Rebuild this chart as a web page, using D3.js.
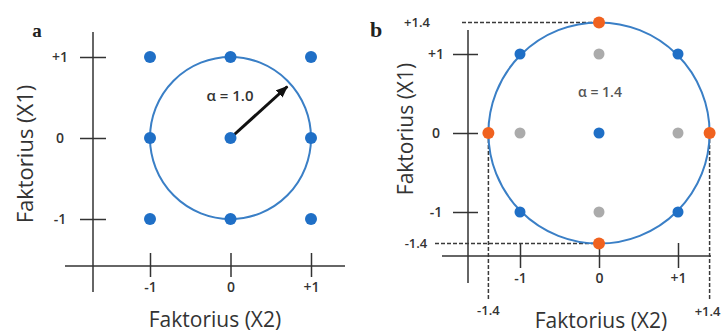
<!DOCTYPE html>
<html>
<head>
<meta charset="utf-8">
<script src="https://cdn.jsdelivr.net/npm/d3@7/dist/d3.min.js"></script>
<style>
  html, body { margin: 0; padding: 0; background: #fff; }
  svg { display: block; }
  text { font-family: "Open Sans", "Noto Sans", sans-serif; }
</style>
</head>
<body>
<svg id="chart" width="725" height="334"></svg>
<script>
// Coded factor levels
const tickValues = [-1, 0, 1];
const tickLabels = ["-1", "0", "+1"];

// (a) 3x3 full factorial design, points as [X2, X1]
const gridPointsA = [
  [-1, 1], [0, 1], [1, 1],
  [-1, 0], [0, 0], [1, 0],
  [-1, -1], [0, -1], [1, -1]
];
const alphaA = 1.0;
const arrowAngleDeg = 42;

// (b) central composite design, points as [X2, X1]
const alphaB = 1.4;
const factorialPointsB = [[-1, 1], [1, 1], [-1, -1], [1, -1]];
const centerPointsB = [[0, 0]];
const axialPointsB = [[0, 1.4], [0, -1.4], [-1.4, 0], [1.4, 0]];
const droppedPointsB = [[0, 1], [0, -1], [-1, 0], [1, 0]];
const axialLabels = ["-1.4", "+1.4"];

const axisTitleX = "Faktorius (X2)";
const axisTitleY = "Faktorius (X1)";

const BLUE = "#1f6fc6";
const RING = "#3a7fc6";
const ORANGE = "#f0621f";
const GREY = "#ababab";
const INK = "#333";

const svg = d3.select("#chart");

svg.append("defs").append("marker")
  .attr("id", "arrowhead")
  .attr("viewBox", "0 0 12 10")
  .attr("refX", 11).attr("refY", 5)
  .attr("markerWidth", 12).attr("markerHeight", 10)
  .attr("markerUnits", "userSpaceOnUse")
  .attr("orient", "auto")
  .append("path").attr("d", "M0,0 L12,5 L0,10 Z").attr("fill", "#111");

function crossTicks(g, inner, outer, vertical) {
  g.select(".domain").remove();
  g.selectAll(".tick line")
    .attr("stroke", INK).attr("stroke-width", 1.5);
  if (vertical) {
    g.selectAll(".tick line").attr("x1", outer).attr("x2", -inner);
  } else {
    g.selectAll(".tick line").attr("y1", -inner).attr("y2", outer);
  }
  g.selectAll(".tick text")
    .attr("fill", INK)
    .style("font-size", "14px")
    .style("font-weight", 600);
}

// ---------- Panel a ----------
const xA = d3.scaleLinear().domain([-1, 1]).range([150, 311]);
const yA = d3.scaleLinear().domain([-1, 1]).range([219, 57]);
const axisXA = 93, axisYA = 266;

const pa = svg.append("g");

pa.append("line").attr("x1", axisXA).attr("x2", axisXA).attr("y1", 32).attr("y2", 292)
  .attr("stroke", INK).attr("stroke-width", 1.5);
pa.append("line").attr("x1", 65).attr("x2", 345).attr("y1", axisYA).attr("y2", axisYA)
  .attr("stroke", INK).attr("stroke-width", 1.5);

pa.append("g").attr("transform", `translate(${axisXA},0)`)
  .call(d3.axisLeft(yA).tickValues(tickValues).tickFormat((d, i) => tickLabels[i]).tickSize(13).tickPadding(20))
  .call(g => crossTicks(g, 13, 13, true))
  .call(g => g.selectAll(".tick text").attr("text-anchor", "middle").attr("x", -33));

pa.append("g").attr("transform", `translate(0,${axisYA})`)
  .call(d3.axisBottom(xA).tickValues(tickValues).tickFormat((d, i) => tickLabels[i]).tickSize(11))
  .call(g => crossTicks(g, 13, 11, false))
  .call(g => g.selectAll(".tick text").attr("y", 16));

pa.append("ellipse")
  .attr("cx", xA(0)).attr("cy", yA(0))
  .attr("rx", xA(alphaA) - xA(0)).attr("ry", yA(0) - yA(alphaA))
  .attr("fill", "none").attr("stroke", RING).attr("stroke-width", 2);

const ang = arrowAngleDeg * Math.PI / 180;
pa.append("line")
  .attr("x1", xA(0)).attr("y1", yA(0))
  .attr("x2", xA(alphaA * 0.95 * Math.cos(ang))).attr("y2", yA(alphaA * 0.95 * Math.sin(ang)))
  .attr("stroke", "#111").attr("stroke-width", 3)
  .attr("marker-end", "url(#arrowhead)");

pa.selectAll("circle.pt").data(gridPointsA).join("circle")
  .attr("class", "pt")
  .attr("cx", d => xA(d[0])).attr("cy", d => yA(d[1])).attr("r", 6)
  .attr("fill", BLUE);

pa.append("text").attr("x", 230).attr("y", 101).attr("text-anchor", "middle")
  .attr("fill", "#333").style("font-size", "15px").style("font-weight", 600)
  .text(`\u03b1 = ${alphaA.toFixed(1)}`);

pa.append("text").attr("x", 37).attr("y", 37).attr("text-anchor", "middle")
  .style("font-family", "'Liberation Serif', serif").style("font-weight", "bold")
  .style("font-size", "19px").attr("fill", "#222").text("a");

pa.append("text").attr("transform", "translate(33,154) rotate(-90)")
  .attr("text-anchor", "middle").attr("fill", INK).style("font-size", "22px")
  .text(axisTitleY);
pa.append("text").attr("x", 215).attr("y", 327).attr("text-anchor", "middle")
  .attr("fill", INK).style("font-size", "21px").text(axisTitleX);

// ---------- Panel b ----------
const xB = d3.scaleLinear().domain([-1, 1]).range([520, 678]);
const yB = d3.scaleLinear().domain([-1, 1]).range([212, 54]);
const axisXB = 468, axisYB = 256;

const pb = svg.append("g");

pb.append("line").attr("x1", axisXB).attr("x2", axisXB).attr("y1", 30).attr("y2", 283)
  .attr("stroke", INK).attr("stroke-width", 1.5);
pb.append("line").attr("x1", 442).attr("x2", 711).attr("y1", axisYB).attr("y2", axisYB)
  .attr("stroke", INK).attr("stroke-width", 1.5);

pb.append("g").attr("transform", `translate(${axisXB},0)`)
  .call(d3.axisLeft(yB).tickValues(tickValues).tickFormat((d, i) => tickLabels[i]).tickSize(12))
  .call(g => crossTicks(g, 15, 10, true))
  .call(g => g.selectAll(".tick text").attr("text-anchor", "middle").attr("x", -32));

pb.append("g").attr("transform", `translate(0,${axisYB})`)
  .call(d3.axisBottom(xB).tickValues(tickValues).tickFormat((d, i) => tickLabels[i]).tickSize(12))
  .call(g => crossTicks(g, 13, 12, false))
  .call(g => g.selectAll(".tick text").attr("y", 17));

// dashed guides to the axial levels
const dash = { stroke: "#3a3a3a", "stroke-width": 1.5, "stroke-dasharray": "4,2" };
function dashed(x1, y1, x2, y2) {
  const l = pb.append("line").attr("x1", x1).attr("y1", y1).attr("x2", x2).attr("y2", y2);
  Object.entries(dash).forEach(([k, v]) => l.attr(k, v));
}
dashed(462, yB(alphaB), xB(0), yB(alphaB));
dashed(435, yB(-alphaB), xB(0), yB(-alphaB));
dashed(xB(-alphaB), yB(0), xB(-alphaB), 300);
dashed(xB(alphaB), yB(0), xB(alphaB), 300);

pb.append("ellipse")
  .attr("cx", xB(0)).attr("cy", yB(0))
  .attr("rx", xB(alphaB) - xB(0)).attr("ry", yB(0) - yB(alphaB))
  .attr("fill", "none").attr("stroke", RING).attr("stroke-width", 2);

function dots(data, color, r) {
  pb.append("g").selectAll("circle").data(data).join("circle")
    .attr("cx", d => xB(d[0])).attr("cy", d => yB(d[1])).attr("r", r)
    .attr("fill", color);
}
dots(droppedPointsB, GREY, 5.5);
dots(factorialPointsB, BLUE, 5.5);
dots(centerPointsB, BLUE, 5.5);
dots(axialPointsB, ORANGE, 6);

const lblStyle = t => t.attr("fill", INK).style("font-size", "13px").style("font-weight", 600)
  .attr("text-anchor", "middle");
pb.append("text").attr("x", 417).attr("y", yB(alphaB) + 5).call(lblStyle).text(axialLabels[1]);
pb.append("text").attr("x", 416).attr("y", yB(-alphaB) + 4).call(lblStyle).text(axialLabels[0]);
pb.append("text").attr("x", xB(-alphaB)).attr("y", 315).call(lblStyle).text(axialLabels[0]);
pb.append("text").attr("x", xB(alphaB) - 2).attr("y", 316).call(lblStyle).text(axialLabels[1]);

pb.append("text").attr("x", 600).attr("y", 97).attr("text-anchor", "middle")
  .attr("fill", "#555").style("font-size", "14px").style("font-weight", 600)
  .text(`\u03b1 = ${alphaB.toFixed(1)}`);

pb.append("text").attr("x", 376).attr("y", 37).attr("text-anchor", "middle")
  .style("font-family", "'Liberation Serif', serif").style("font-weight", "bold")
  .style("font-size", "22px").attr("fill", "#222").text("b");

pb.append("text").attr("transform", "translate(413,129) rotate(-90)")
  .attr("text-anchor", "middle").attr("fill", INK).style("font-size", "21px")
  .text(axisTitleY);
pb.append("text").attr("x", 601).attr("y", 328).attr("text-anchor", "middle")
  .attr("fill", INK).style("font-size", "21px").text(axisTitleX);
</script>
</body>
</html>
